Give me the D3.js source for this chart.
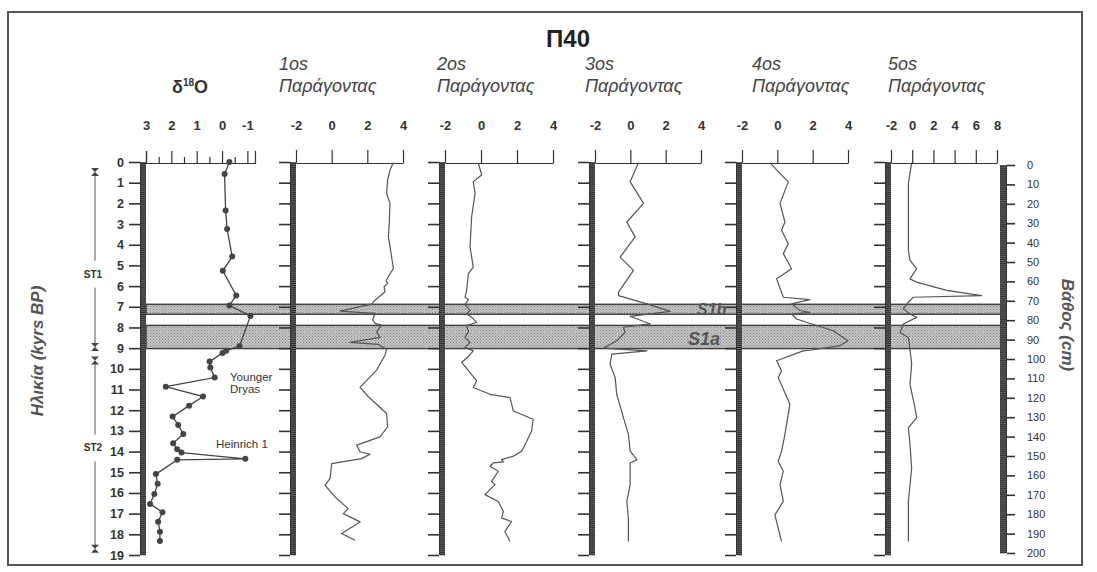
<!DOCTYPE html>
<html>
<head>
<meta charset="utf-8">
<script src="https://cdn.jsdelivr.net/npm/d3@7"></script>
<style>
  body { margin: 0; background: #fff; }
  svg { display: block; font-family: 'Liberation Sans', Arial, sans-serif; }
</style>
</head>
<body>
<div id="container"></div>
<script>
// --- data (age in kyrs BP, value) ---
const factorNames = ['1os', '2os', '3os', '4os', '5os'];
const factorDomains = [[-2, 4], [-2, 4], [-2, 4], [-2, 4], [-2, 8]];
const factorTicks = [[-2, 0, 2, 4], [-2, 0, 2, 4], [-2, 0, 2, 4], [-2, 0, 2, 4], [-2, 0, 2, 4, 6, 8]];
const d18oDomain = [3, -1.3];
const d18oTicks = [3, 2, 1, 0, -1];
const d18oMinorTicks = [2.5, 1.5, 0.5, -0.5];
const ageTicks = d3.range(0, 20);
const depthTicks = d3.range(0, 201, 10);

const d18O = [
  [0, -0.29], [0.58, -0.1], [2.34, -0.14], [3.24, -0.2], [4.57, -0.4], [5.26, -0.03],
  [6.45, -0.56], [6.94, -0.29], [7.44, -1.12], [8.89, -0.69], [9.13, -0.16], [9.23, -0.02],
  [9.65, 0.49], [9.94, 0.46], [10.42, 0.29], [10.86, 2.22], [11.34, 0.75], [11.78, 1.3],
  [12.31, 1.95], [12.71, 1.73], [13.15, 1.53], [13.6, 1.93], [13.89, 1.77], [14.05, 1.6],
  [14.35, -0.92], [14.4, 1.77], [15.09, 2.61], [15.56, 2.54], [16.05, 2.67], [16.53, 2.84],
  [16.93, 2.35], [17.39, 2.52], [17.87, 2.45], [18.32, 2.45]
];

const factor1 = [
  [0.03, 3.46], [0.39, 3.27], [0.87, 3.14], [1.52, 3.08], [2.0, 3.27], [2.97, 3.23],
  [3.61, 3.18], [4.42, 3.33], [5.14, 3.46], [5.55, 3.18], [5.74, 3.05], [5.87, 3.14],
  [6.03, 2.94], [6.27, 2.99], [6.68, 2.43], [6.87, 2.24], [7.21, 0.47], [7.32, 2.43],
  [7.64, 2.3], [7.8, 2.43], [7.89, 2.8], [8.21, 2.52], [8.48, 2.71], [8.72, 1.03],
  [8.82, 2.62], [9.05, 3.08], [9.34, 2.99], [10.06, 2.52], [10.9, 1.59], [11.35, 2.06],
  [12.16, 3.08], [12.8, 3.14], [13.29, 2.71], [13.69, 1.4], [14.01, 1.59], [14.13, 2.15],
  [14.34, 1.68], [14.58, 0.0], [15.3, -0.09], [15.63, -0.37], [16.27, 0.28], [16.76, 0.93],
  [17.0, 0.65], [17.4, 1.59], [17.96, 0.56], [18.29, 1.31]
];

const factor2 = [
  [0.06, -0.15], [0.63, 0.04], [0.95, -0.43], [1.52, -0.33], [2.65, -0.52], [4.11, -0.61],
  [5.08, -0.43], [5.4, -0.7], [6.21, -0.8], [6.54, -0.89], [6.65, -0.7], [6.89, -0.89],
  [7.18, -0.61], [7.35, -0.8], [7.51, -0.52], [7.75, -0.24], [7.91, -0.8], [8.2, -0.7],
  [8.48, -0.89], [8.72, -0.61], [8.96, -0.89], [9.13, -0.43], [9.4, -0.7], [9.69, -1.07],
  [10.18, -0.61], [10.58, -0.24], [10.9, -0.43], [11.23, 0.5], [11.39, 1.61], [12.04, 1.8],
  [12.44, 2.9], [13.0, 2.81], [13.5, 2.54], [13.98, 2.26], [14.22, 1.8], [14.39, 1.15],
  [14.5, 1.24], [14.55, 0.69], [14.71, 0.5], [14.95, 0.96], [15.44, 0.59], [15.6, 0.78],
  [16.08, 0.22], [16.41, 0.96], [16.89, 1.24], [17.22, 1.15], [17.38, 1.7], [17.86, 1.33],
  [18.35, 1.61]
];

const factor3 = [
  [0.03, 0.46], [0.96, -0.01], [2.0, 0.75], [2.9, -0.2], [3.62, 0.27], [4.6, -0.58],
  [5.24, 0.18], [6.29, -0.67], [6.46, -0.67], [6.86, 0.94], [7.22, 2.26], [7.46, -0.01],
  [7.83, 1.13], [7.99, -0.39], [8.24, -0.3], [8.64, -0.77], [9.0, -1.53], [9.13, 0.94],
  [9.29, -1.05], [9.77, -1.15], [10.42, -0.86], [11.23, -0.77], [12.36, -0.39], [13.17, -0.11],
  [13.98, -0.01], [14.39, 0.37], [14.55, -0.01], [15.6, -0.01], [16.41, -0.2], [17.22, -0.11],
  [18.35, -0.11]
];

const factor4 = [
  [0.03, -0.42], [0.55, 0.15], [0.96, 0.62], [2.0, 0.15], [2.9, 0.43], [3.3, 0.24],
  [3.95, 0.62], [4.43, 0.34], [5.16, 0.81], [5.65, -0.04], [6.54, 0.34], [6.65, 1.84],
  [6.86, 0.81], [7.18, 1.28], [7.27, 1.84], [7.35, 0.81], [7.59, 1.09], [7.75, 1.65],
  [8.16, 3.16], [8.64, 4.0], [8.88, 3.54], [9.09, 1.94], [9.13, 1.46], [9.61, -0.04],
  [10.1, 0.24], [10.42, 0.05], [11.71, 0.71], [13.17, 0.43], [13.98, 0.24], [14.47, 0.05],
  [14.95, 0.34], [15.6, 0.15], [16.41, 0.34], [17.06, -0.14], [18.35, 0.24]
];

const factor5 = [
  [0.03, -0.05], [1.03, -0.36], [4.27, -0.36], [4.76, -0.21], [5.16, 0.42], [5.65, -0.21],
  [5.81, 0.42], [6.21, 3.25], [6.46, 6.55], [6.54, 0.1], [6.78, -0.36], [7.1, -0.84],
  [7.35, -0.21], [7.51, 0.42], [7.83, -0.84], [8.24, -1.15], [8.48, -0.36], [9.05, -0.21],
  [9.77, -0.05], [10.75, -0.21], [11.88, 0.26], [12.36, 0.42], [12.85, -0.36], [13.66, -0.21],
  [14.79, -0.05], [16.41, -0.36], [18.35, -0.36]
];

const factors = [factor1, factor2, factor3, factor4, factor5];

const bands = [
  { name: 'S1b', from: 6.88, to: 7.36 },
  { name: 'S1a', from: 7.9, to: 9.02 }
];
const stages = [
  { name: 'ST1', from: 0.48, to: 8.95, labelAge: 5.4 },
  { name: 'ST2', from: 9.6, to: 18.7, labelAge: 13.8 }
];
const events = [
  { name: ['Younger', 'Dryas'], age: 10.9 },
  { name: ['Heinrich 1'], age: 13.9 }
];

// --- layout ---
let svg,
  yScale,
  depthScale,
  svgWidth = 1097,
  svgHeight = 572;
const panelX = [146, 296, 445, 595, 742, 891];
const panelW = [109, 107, 108, 106, 106, 106];
const axisY = 163;
const barW = 6;
const ink = '#333';

const init = () => {
  svg = d3
    .select('#container')
    .append('svg')
    .attr('width', svgWidth)
    .attr('height', svgHeight);

  yScale = d3.scaleLinear().domain([0, 19]).range([162, 555]);
  depthScale = d3.scaleLinear().domain([0, 200]).range([165, 553]);

  drawFrame();
  drawBands();
  drawAgeBars();
  drawTopAxes();
  drawDepthAxis();
  drawCurves();
  drawStages();
  drawLabels();
};

const drawFrame = () => {
  const defs = svg.append('defs');
  const pat = defs
    .append('pattern')
    .attr('id', 'dots')
    .attr('width', 3)
    .attr('height', 3)
    .attr('patternUnits', 'userSpaceOnUse');
  pat.append('rect').attr('width', 3).attr('height', 3).attr('fill', '#c2c2c2');
  pat.append('rect').attr('width', 1).attr('height', 1).attr('fill', '#8a8a8a');
  pat.append('rect').attr('x', 1.5).attr('y', 1.5).attr('width', 1).attr('height', 1).attr('fill', '#9a9a9a');

  svg
    .append('rect')
    .attr('x', 8)
    .attr('y', 12)
    .attr('width', 1074)
    .attr('height', 553)
    .attr('fill', 'none')
    .attr('stroke', '#555')
    .attr('stroke-width', 2);
};

const drawBands = () => {
  const g = svg.append('g');
  bands.forEach((b) => {
    g.append('rect')
      .attr('x', panelX[0])
      .attr('y', yScale(b.from))
      .attr('width', 1003 - panelX[0])
      .attr('height', yScale(b.to) - yScale(b.from))
      .attr('fill', 'url(#dots)')
      .attr('stroke', '#444')
      .attr('stroke-width', 1.5);
  });
};

const drawAgeBars = () => {
  const minor = d3.range(0, 19.01, 0.1);
  panelX.forEach((x, i) => {
    const g = svg.append('g');
    g.append('rect')
      .attr('x', x - barW)
      .attr('y', yScale(0))
      .attr('width', barW)
      .attr('height', yScale(19) - yScale(0))
      .attr('fill', '#333');
    g.selectAll('line.minor')
      .data(minor)
      .enter()
      .append('line')
      .attr('x1', x - barW + 1)
      .attr('x2', x)
      .attr('y1', (d) => yScale(d) + 0.5)
      .attr('y2', (d) => yScale(d) + 0.5)
      .attr('stroke', '#8a8a8a')
      .attr('stroke-width', 0.5);

    const axis = d3
      .axisLeft(yScale)
      .tickValues(ageTicks)
      .tickSize(11)
      .tickSizeOuter(0)
      .tickPadding(5)
      .tickFormat(i === 0 ? d3.format('d') : '');
    const ag = g
      .append('g')
      .attr('transform', `translate(${x - barW},0)`)
      .call(axis);
    ag.select('.domain').remove();
    ag.selectAll('line').attr('stroke', ink).attr('stroke-width', 1.6);
    ag.selectAll('text')
      .attr('fill', ink)
      .style('font-size', '12.5px')
      .style('font-weight', 'bold');
  });
};

const drawTopAxes = () => {
  // δ18O
  const x0 = d3.scaleLinear().domain(d18oDomain).range([panelX[0], panelX[0] + panelW[0]]);
  const major = d3
    .axisTop(x0)
    .tickValues(d18oTicks)
    .tickSize(12)
    .tickSizeOuter(12)
    .tickPadding(21)
    .tickFormat((d) => String(d));
  const minor = d3.axisTop(x0).tickValues(d18oMinorTicks).tickSize(6).tickSizeOuter(0).tickFormat('');
  const g0 = svg.append('g').attr('transform', `translate(0,${axisY})`);
  g0.call(major);
  g0.append('g').call(minor).select('.domain').remove();
  styleTop(g0);

  factorNames.forEach((name, i) => {
    const x = panelX[i + 1];
    const xs = d3.scaleLinear().domain(factorDomains[i]).range([x, x + panelW[i + 1]]);
    const axis = d3
      .axisTop(xs)
      .tickValues(factorTicks[i])
      .tickSize(13)
      .tickSizeOuter(0)
      .tickPadding(20)
      .tickFormat((d) => String(d));
    const g = svg.append('g').attr('transform', `translate(0,${axisY})`).call(axis);
    styleTop(g);
  });
};

const styleTop = (g) => {
  g.selectAll('path').attr('stroke', ink).attr('stroke-width', 1.2);
  g.selectAll('line').attr('stroke', ink).attr('stroke-width', 1.2);
  g.selectAll('text')
    .attr('fill', ink)
    .style('font-size', '13px')
    .style('font-weight', 'bold');
};

const drawDepthAxis = () => {
  const x = 1000;
  const g = svg.append('g');
  g.append('rect')
    .attr('x', x)
    .attr('y', depthScale(0))
    .attr('width', 7)
    .attr('height', depthScale(200) - depthScale(0))
    .attr('fill', '#333');
  g.selectAll('line.minor')
    .data(d3.range(0, 200.5, 1))
    .enter()
    .append('line')
    .attr('x1', x)
    .attr('x2', x + 6)
    .attr('y1', (d) => depthScale(d) + 0.5)
    .attr('y2', (d) => depthScale(d) + 0.5)
    .attr('stroke', '#8a8a8a')
    .attr('stroke-width', 0.5);
  const axis = d3
    .axisRight(depthScale)
    .tickValues(depthTicks)
    .tickSize(8)
    .tickSizeOuter(0)
    .tickPadding(12)
    .tickFormat(d3.format('d'));
  const ag = g.append('g').attr('transform', `translate(${x + 7},0)`).call(axis);
  ag.select('.domain').remove();
  ag.selectAll('line').attr('stroke', ink).attr('stroke-width', 1.6);
  ag.selectAll('text').attr('fill', ink).style('font-size', '11px');
};

const drawCurves = () => {
  const x0 = d3.scaleLinear().domain(d18oDomain).range([panelX[0], panelX[0] + panelW[0]]);
  const line0 = d3
    .line()
    .x((d) => x0(d[1]))
    .y((d) => yScale(d[0]));
  svg
    .append('path')
    .datum(d18O)
    .attr('d', line0)
    .attr('fill', 'none')
    .attr('stroke', '#444')
    .attr('stroke-width', 1.3);
  svg
    .selectAll('circle.d18o')
    .data(d18O)
    .enter()
    .append('circle')
    .attr('class', 'd18o')
    .attr('cx', (d) => x0(d[1]))
    .attr('cy', (d) => yScale(d[0]))
    .attr('r', 3)
    .attr('fill', '#444');

  factors.forEach((data, i) => {
    const x = panelX[i + 1];
    const xs = d3.scaleLinear().domain(factorDomains[i]).range([x, x + panelW[i + 1]]);
    const line = d3
      .line()
      .x((d) => xs(d[1]))
      .y((d) => yScale(d[0]));
    svg
      .append('path')
      .datum(data)
      .attr('d', line)
      .attr('fill', 'none')
      .attr('stroke', '#555')
      .attr('stroke-width', 1.2)
      .attr('stroke-linejoin', 'round');
  });
};

const drawStages = () => {
  const x = 95;
  const g = svg.append('g');
  const mark = (y) =>
    `M${x - 4},${y - 4}L${x + 4},${y - 4}L${x - 4},${y + 4}L${x + 4},${y + 4}Z`;
  stages.forEach((s) => {
    const y1 = yScale(s.from);
    const y2 = yScale(s.to);
    const ym = yScale(s.labelAge);
    g.append('line').attr('x1', x).attr('x2', x).attr('y1', y1).attr('y2', ym - 13)
      .attr('stroke', '#555').attr('stroke-width', 1);
    g.append('line').attr('x1', x).attr('x2', x).attr('y1', ym + 14).attr('y2', y2)
      .attr('stroke', '#555').attr('stroke-width', 1);
    g.append('path').attr('d', mark(y1)).attr('fill', '#444');
    g.append('path').attr('d', mark(y2)).attr('fill', '#444');
    g.append('text')
      .attr('x', x - 2)
      .attr('y', ym + 4)
      .attr('text-anchor', 'middle')
      .attr('fill', ink)
      .style('font-size', '10px')
      .style('font-weight', 'bold')
      .text(s.name);
  });
};

const drawLabels = () => {
  svg.append('text')
    .attr('x', 568)
    .attr('y', 47)
    .attr('text-anchor', 'middle')
    .attr('fill', '#222')
    .style('font-size', '24px')
    .style('font-weight', 'bold')
    .text('Π40');

  const t = svg.append('text')
    .attr('x', 190)
    .attr('y', 93)
    .attr('text-anchor', 'middle')
    .attr('fill', '#333')
    .style('font-size', '18px')
    .style('font-weight', 'bold');
  t.append('tspan').text('δ');
  t.append('tspan').attr('dy', -7).style('font-size', '10px').text('18');
  t.append('tspan').attr('dy', 7).text('O');

  factorNames.forEach((name, i) => {
    const g = svg.append('text')
      .attr('fill', '#444')
      .style('font-size', '18px')
      .style('font-style', 'italic');
    const tx = [279, 437, 585, 752, 888][i];
    g.append('tspan').attr('x', tx).attr('y', 70).text(name);
    g.append('tspan').attr('x', tx).attr('y', 92).text('Παράγοντας');
  });

  // band names
  const bandX = [697, 688];
  const bandDy = [6, 8];
  bands.forEach((b, i) => {
    svg.append('text')
      .attr('x', bandX[i])
      .attr('y', (yScale(b.from) + yScale(b.to)) / 2 + bandDy[i])
      .attr('fill', '#555')
      .style('font-size', i === 0 ? '16px' : '18px')
      .style('font-weight', 'bold')
      .style('font-style', 'italic')
      .text(b.name);
  });

  // events
  const evX = [230, 216];
  const evDy = [-6, -2];
  events.forEach((e, i) => {
    const tx = svg.append('text')
      .attr('fill', ink)
      .style('font-size', '11.5px');
    e.name.forEach((n, j) => {
      tx.append('tspan')
        .attr('x', evX[i])
        .attr('y', yScale(e.age) + evDy[i] + j * 12)
        .text(n);
    });
  });

  svg.append('text')
    .attr('transform', 'translate(43,351) rotate(-90)')
    .attr('text-anchor', 'middle')
    .attr('fill', '#555')
    .style('font-size', '17px')
    .style('font-weight', 'bold')
    .style('font-style', 'italic')
    .text('Ηλικία (kyrs BP)');

  svg.append('text')
    .attr('transform', 'translate(1062,325) rotate(90)')
    .attr('text-anchor', 'middle')
    .attr('fill', '#555')
    .style('font-size', '17px')
    .style('font-weight', 'bold')
    .style('font-style', 'italic')
    .text('Βάθος (cm)');
};

init();
</script>
</body>
</html>
